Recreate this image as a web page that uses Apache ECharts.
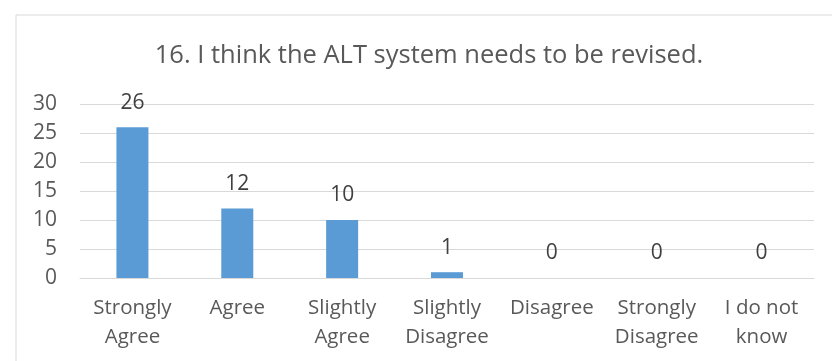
<!DOCTYPE html>
<html>
<head>
<meta charset="utf-8">
<script src="https://cdn.jsdelivr.net/npm/echarts@6/dist/echarts.min.js"></script>
<style>
  html, body { margin: 0; padding: 0; background: #fff; }
  #chart { width: 832px; height: 361px; }
</style>
</head>
<body>
<div id="chart"></div>
<script>
// Survey responses for statement 16
const categories = ['Strongly\nAgree', 'Agree', 'Slightly\nAgree', 'Slightly\nDisagree', 'Disagree', 'Strongly\nDisagree', 'I do not\nknow'];
const counts = [26, 12, 10, 1, 0, 0, 0];
const titleText = '16. I think the ALT system needs to be revised.';

const FONT = 'Open Sans';
const TEXT = '#595959';
const GRID = '#d9d9d9';

const chart = echarts.init(document.getElementById('chart'), null, { renderer: 'canvas' });
chart.setOption({
  animation: false,
  backgroundColor: '#fff',
  graphic: [{
    type: 'rect',
    shape: { x: 16, y: 15, width: 840, height: 360 },
    style: { fill: 'none', stroke: GRID, lineWidth: 1 }
  }, {
    type: 'text',
    x: 429, y: 56,
    style: {
      text: titleText,
      font: '25.5px "' + FONT + '"',
      fill: TEXT,
      textAlign: 'center',
      textVerticalAlign: 'middle'
    }
  }],
  grid: { left: 80, right: 18, top: 104, bottom: 83, containLabel: false },
  xAxis: {
    type: 'category',
    data: categories,
    axisLine: { lineStyle: { color: GRID, width: 1 } },
    axisTick: { show: false },
    axisLabel: {
      color: TEXT, fontFamily: FONT, fontSize: 20.5, lineHeight: 29, margin: 16, interval: 0
    }
  },
  yAxis: {
    type: 'value',
    min: 0, max: 30, interval: 5,
    axisLine: { show: false },
    axisTick: { show: false },
    splitLine: { lineStyle: { color: GRID, width: 1 } },
    axisLabel: { color: TEXT, fontFamily: FONT, fontSize: 21, margin: 23 }
  },
  series: [{
    type: 'bar',
    data: counts,
    barWidth: 32,
    itemStyle: { color: '#5B9BD5' },
    label: {
      show: true, position: 'top', distance: 14,
      color: '#404040', fontFamily: FONT, fontSize: 21
    }
  }]
});
</script>
</body>
</html>
